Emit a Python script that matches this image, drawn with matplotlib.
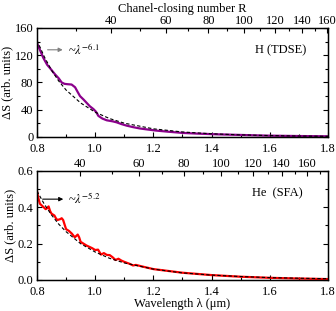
import numpy as np
import matplotlib
matplotlib.use('Agg')
import matplotlib.pyplot as plt
from matplotlib.ticker import MultipleLocator, FormatStrFormatter

plt.rcParams['font.family'] = ['Liberation Serif', 'DejaVu Serif']
plt.rcParams['mathtext.fontset'] = 'stix'
plt.rcParams['font.size'] = 9

# H (TDSE) curve
lam_h = [0.80, 0.81, 0.822, 0.835, 0.845, 0.862, 0.875, 0.885, 0.895, 0.905, 0.919,
         0.931, 0.94, 0.948, 0.96, 0.971, 0.982, 0.994, 1.003, 1.011, 1.025, 1.04,
         1.06, 1.074, 1.09, 1.108, 1.13, 1.154, 1.18, 1.21, 1.25, 1.30, 1.35, 1.42,
         1.50, 1.59, 1.70, 1.80]
ds_h = [138, 128, 116, 106, 101, 92, 86, 80, 78, 77.5, 77, 73, 66, 60, 55, 50, 45,
        41, 37, 31, 27, 24.5, 23, 21.5, 19, 16.7, 14.5, 12.5, 11, 9.4, 7.8, 6.0, 5.0,
        3.9, 3.0, 2.0, 1.4, 1.0]

# power-law guide ~lambda^-6.1
fit_lam_h = [0.80, 0.825, 0.85, 0.875, 0.90, 0.95, 1.00, 1.05, 1.10, 1.20, 1.30,
             1.40, 1.50, 1.60, 1.70, 1.80]
fit_h = [142, 118, 98, 82, 69, 50, 36.4, 27, 20.3, 12.0, 7.4, 4.7, 3.1, 2.1, 1.4, 1.0]

# He (SFA) curve
lam_he = [0.80, 0.805, 0.81, 0.82, 0.83, 0.835, 0.84, 0.845, 0.85, 0.86, 0.865, 0.87,
          0.88, 0.885, 0.89, 0.90, 0.91, 0.92, 0.93, 0.94, 0.945, 0.95, 0.97, 0.99,
          1.00, 1.01, 1.02, 1.03, 1.04, 1.05, 1.06, 1.07, 1.08, 1.09, 1.10, 1.12,
          1.13, 1.14, 1.16, 1.20, 1.25, 1.30, 1.40, 1.50, 1.60, 1.70, 1.80]
ds_he = [0.49, 0.45, 0.42, 0.405, 0.39, 0.395, 0.405, 0.38, 0.365, 0.355, 0.34, 0.33,
         0.335, 0.34, 0.33, 0.28, 0.27, 0.255, 0.235, 0.25, 0.235, 0.21, 0.19, 0.175,
         0.165, 0.167, 0.14, 0.148, 0.138, 0.137, 0.125, 0.11, 0.117, 0.107, 0.10,
         0.088, 0.08, 0.083, 0.075, 0.06, 0.05, 0.04, 0.027, 0.018, 0.012, 0.008, 0.005]

# power-law guide ~lambda^-5.2
fit_lam_he = [0.80, 0.825, 0.85, 0.875, 0.90, 0.95, 1.00, 1.05, 1.10, 1.20, 1.30,
              1.40, 1.50, 1.60, 1.70, 1.80]
fit_he = [0.49, 0.418, 0.358, 0.307, 0.266, 0.200, 0.154, 0.119, 0.094, 0.060,
          0.039, 0.027, 0.019, 0.013, 0.0097, 0.0072]

r_major = [40, 60, 80, 100, 120, 140, 160]
r_minor_h = [30, 50, 70, 90, 110, 130, 150]
r_minor_he = [50, 70, 90, 110, 130, 150, 170]

# R = a*lam + b*lam^3, inverted on a fine grid
def lam_of_r(r, a, b):
    grid = np.linspace(0.5, 2.2, 4000)
    return np.interp(r, a * grid + b * grid**3, grid)


fig = plt.figure(figsize=(3.36, 3.11), dpi=100)
ax1 = fig.add_axes([0.110, 0.5595, 0.866, 0.3505])
ax2 = fig.add_axes([0.110, 0.0997, 0.866, 0.3505])


def style(ax, ymax, ymaj, ymin, yfmt):
    ax.set_xlim(0.8, 1.8)
    ax.set_ylim(0, ymax)
    ax.xaxis.set_major_locator(MultipleLocator(0.2))
    ax.xaxis.set_minor_locator(MultipleLocator(0.1))
    ax.xaxis.set_major_formatter(FormatStrFormatter('%.1f'))
    ax.yaxis.set_major_locator(MultipleLocator(ymaj))
    ax.yaxis.set_minor_locator(MultipleLocator(ymin))
    ax.yaxis.set_major_formatter(FormatStrFormatter(yfmt))
    ax.tick_params(which='both', direction='in', right=True, top=False, labelsize=9)
    ax.tick_params(axis='x', pad=4.5)
    ax.tick_params(axis='y', pad=2.5)
    ax.tick_params(which='major', length=3.5, width=0.8)
    ax.tick_params(which='minor', length=2, width=0.8)
    for s in ax.spines.values():
        s.set_linewidth(1.0)


def top_axis(ax, a, b, minors, show_label):
    t = ax.twiny()
    t.set_xlim(ax.get_xlim())
    t.set_xticks(lam_of_r(np.array(r_major, float), a, b))
    t.set_xticklabels([str(r) for r in r_major])
    t.set_xticks(lam_of_r(np.array(minors, float), a, b), minor=True)
    t.tick_params(which='both', direction='in', labelsize=9, pad=1)
    t.tick_params(which='major', length=3.5, width=0.8)
    t.tick_params(which='minor', length=2, width=0.8)
    if show_label:
        t.set_xlabel('Chanel-closing number R', fontsize=9, labelpad=2)


# top panel
ax1.plot(lam_h, ds_h, color='#8b008b', lw=1.6)
ax1.plot(fit_lam_h, fit_h, color='black', lw=0.8, ls=(0, (3, 2)))
style(ax1, 160, 40, 20, '%d')
ax1.set_ylabel('ΔS (arb. units)', fontsize=9, labelpad=1)
ax1.annotate('', xy=(0.898, 128), xytext=(0.827, 128),
             arrowprops=dict(arrowstyle='-|>', color='gray', lw=0.8,
                             mutation_scale=6))
ax1.text(0.905, 128, r'~$\lambda^{-6.1}$', fontsize=9, va='center')
ax1.text(1.55, 127, 'H (TDSE)', fontsize=9, va='center')
top_axis(ax1, 11.1, 24.1, r_minor_h, True)

# bottom panel
ax2.plot(lam_he, ds_he, color='#ff0000', lw=1.6)
ax2.plot(fit_lam_he, fit_he, color='black', lw=0.8, ls=(0, (3, 2)))
style(ax2, 0.6, 0.2, 0.1, '%.1f')
ax2.set_ylabel('ΔS (arb. units)', fontsize=9, labelpad=1)
ax2.set_xlabel('Wavelength λ (μm)', fontsize=9, labelpad=0)
ax2.annotate('', xy=(0.9, 0.445), xytext=(0.81, 0.445),
             arrowprops=dict(arrowstyle='-|>', color='black', lw=0.8,
                             mutation_scale=6))
ax2.text(0.905, 0.445, r'~$\lambda^{-5.2}$', fontsize=9, va='center')
ax2.text(1.54, 0.475, 'He  (SFA)', fontsize=9, va='center')
top_axis(ax2, 20.4, 24.1, r_minor_he, False)

fig.savefig('out.png', dpi=100)
